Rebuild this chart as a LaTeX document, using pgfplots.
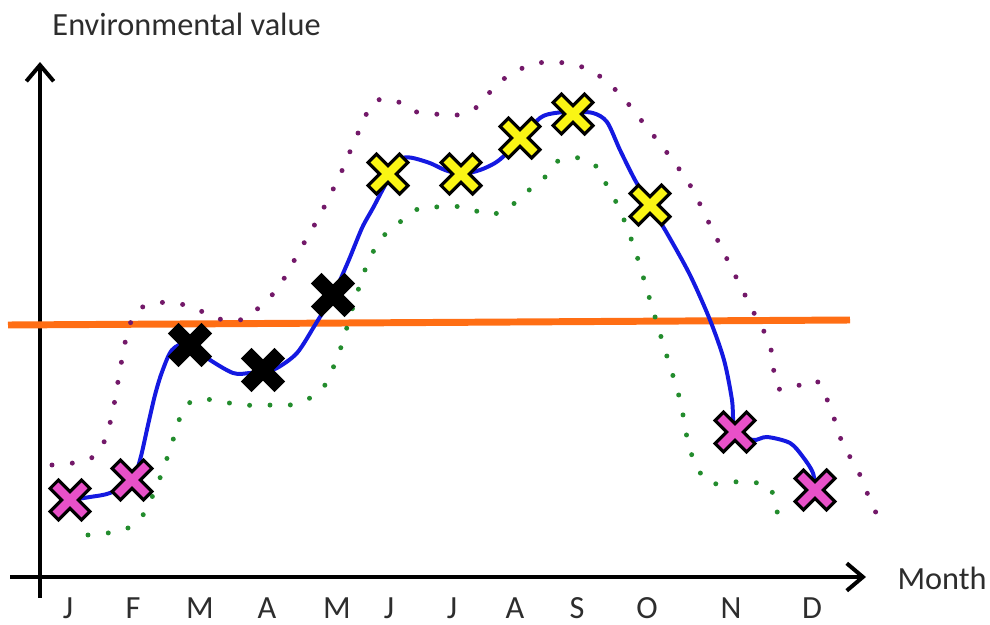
\documentclass[border=0pt]{standalone}
\usepackage{fontspec}
\setmainfont{Carlito}
\usepackage{pgfplots}
\pgfplotsset{compat=1.18}
\usetikzlibrary{arrows.meta}

\definecolor{curveblue}{RGB}{20,25,225}
\definecolor{upperdot}{RGB}{115,25,105}
\definecolor{lowerdot}{RGB}{35,140,45}
\definecolor{refline}{RGB}{255,110,20}
\definecolor{xpink}{RGB}{232,80,200}
\definecolor{xyellow}{RGB}{250,245,20}
\definecolor{labelgray}{RGB}{45,45,45}

\tikzset{
  lbl/.style={font=\fontsize{13}{15}\selectfont, text=labelgray, inner sep=0pt},
  dotline/.style={line width=2pt, line cap=round, dash pattern=on 0pt off 8.2pt, smooth, tension=0.5},
}

\begin{document}
\begin{tikzpicture}
\begin{axis}[
    scale only axis,
    width=14cm, height=8.838cm,
    xmin=0, xmax=990, ymin=0, ymax=625,
    y dir=reverse,
    hide axis,
    clip=false,
]
% invisible frame for page size
\path (axis cs:0,0) (axis cs:990,625);

% axes
\draw[line width=1.6pt, -{Straight Barb[length=6.5pt,width=11pt,line width=1.6pt]}] (axis cs:40,598) -- (axis cs:40,62);
\draw[line width=1.6pt, -{Straight Barb[length=6.5pt,width=11pt,line width=1.6pt]}] (axis cs:10,577) -- (axis cs:866,577);

% threshold
\addplot[refline, line width=2.8pt] coordinates {(8,325) (850,320)};

% upper dotted band
\addplot[upperdot, dotline] coordinates {
(52,465) (73,463) (93,457) (105,440) (113,410) (120,370) (128,330) (138,310)
(155,303) (175,303) (195,308) (215,318) (240,320) (262,305) (280,285) (300,250)
(320,215) (340,175) (355,140) (373,103) (394,100) (413,111) (435,114) (457,115)
(477,107) (490,92) (505,78) (525,67) (545,62) (565,63) (585,68) (605,80)
(625,100) (645,125) (665,150) (690,185) (710,225) (735,275) (755,315) (770,345)
(777,387) (794,387) (815,380) (825,395) (833,415) (840,437) (850,457) (860,475)
(868,495) (877,515)};

% lower dotted band
\addplot[lowerdot, dotline] coordinates {
(88,535) (108,533) (128,528) (143,515) (153,495) (163,470) (173,440) (183,410)
(195,400) (215,400) (240,405) (265,405) (290,405) (310,398) (325,385) (340,350)
(352,310) (365,270) (380,240) (400,222) (420,208) (442,207) (465,207) (490,215)
(512,205) (528,191) (545,177) (558,161) (580,158) (598,168) (607,186) (620,210)
(635,250) (650,300) (665,350) (680,400) (690,450) (707,482) (728,482) (750,482)
(770,487) (775,507) (785,527)};

% measured curve
\addplot[curveblue, line width=1.6pt, smooth, tension=0.5] coordinates {
(70,500) (90,497) (110,493) (132,480) (140,460) (148,425) (155,395) (162,372)
(172,350) (188,343) (207,358) (233,373) (250,373) (263,372) (277,368) (297,353)
(315,325) (333,295) (348,262) (362,228) (373,208) (388,180) (403,158) (427,162)
(445,170) (462,174) (480,170) (495,163) (505,155) (520,140) (540,118) (555,113)
(573,112) (593,113) (607,122) (620,150) (635,180) (650,205) (668,235) (690,275)
(710,320) (724,360) (732,400) (735,430) (753,440) (767,437) (790,443) (803,457)
(813,473) (815,490)};

% monthly marks: outline then fill
\pgfplotsset{xout/.style={only marks, mark=x, mark size=6.6pt,
    mark options={black, line width=6.0pt, line cap=rect}},
  xin/.style={only marks, mark=x, mark size=6.6pt,
    mark options={#1, line width=3.3pt, line cap=rect}}}
\addplot[xout] coordinates {(70,500) (132,480) (190,345) (263,370) (333,295) (388,174)
  (461,174) (520,138) (573,114) (650,205) (735,432) (815,490)};
\addplot[xin=xpink] coordinates {(70,500) (132,480) (735,432) (815,490)};
\addplot[xin=black] coordinates {(190,345) (263,370) (333,295)};
\addplot[xin=xyellow] coordinates {(388,174) (461,174) (520,138) (573,114) (650,205)};

% labels
\node[lbl, anchor=west] at (axis cs:52,24) {Environmental value};
\node[lbl, anchor=west] at (axis cs:897,578) {Month};
\node[lbl] at (axis cs:68,608) {J};
\node[lbl] at (axis cs:133,608) {F};
\node[lbl] at (axis cs:200,608) {M};
\node[lbl] at (axis cs:267,608) {A};
\node[lbl] at (axis cs:337,608) {M};
\node[lbl] at (axis cs:389,608) {J};
\node[lbl] at (axis cs:452,608) {J};
\node[lbl] at (axis cs:515,608) {A};
\node[lbl] at (axis cs:577,608) {S};
\node[lbl] at (axis cs:647,608) {O};
\node[lbl] at (axis cs:731,608) {N};
\node[lbl] at (axis cs:812,608) {D};
\end{axis}
\end{tikzpicture}
\end{document}
